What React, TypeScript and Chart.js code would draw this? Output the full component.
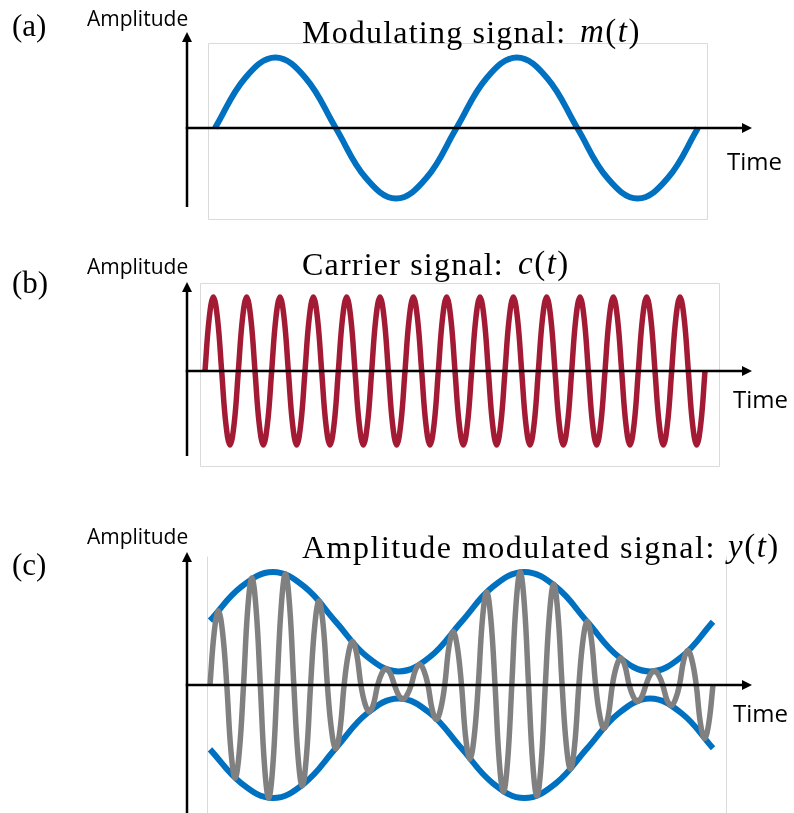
import React, { useEffect, useRef } from "react";
import { Chart, registerables } from "chart.js";

Chart.register(...registerables);

// ---- data -------------------------------------------------------------
// time in carrier cycles (eighth-cycle samples)
const carrierTime = [
  0, 0.125, 0.25, 0.375, 0.5, 0.625, 0.75, 0.875, 1, 1.125, 1.25, 1.375, 1.5, 1.625, 1.75, 1.875,
  2, 2.125, 2.25, 2.375, 2.5, 2.625, 2.75, 2.875, 3, 3.125, 3.25, 3.375, 3.5, 3.625, 3.75, 3.875,
  4, 4.125, 4.25, 4.375, 4.5, 4.625, 4.75, 4.875, 5, 5.125, 5.25, 5.375, 5.5, 5.625, 5.75, 5.875,
  6, 6.125, 6.25, 6.375, 6.5, 6.625, 6.75, 6.875, 7, 7.125, 7.25, 7.375, 7.5, 7.625, 7.75, 7.875,
  8, 8.125, 8.25, 8.375, 8.5, 8.625, 8.75, 8.875, 9, 9.125, 9.25, 9.375, 9.5, 9.625, 9.75, 9.875,
  10, 10.125, 10.25, 10.375, 10.5, 10.625, 10.75, 10.875, 11, 11.125, 11.25, 11.375, 11.5, 11.625, 11.75, 11.875,
  12, 12.125, 12.25, 12.375, 12.5, 12.625, 12.75, 12.875, 13, 13.125, 13.25, 13.375, 13.5, 13.625, 13.75, 13.875,
  14, 14.125, 14.25, 14.375, 14.5, 14.625, 14.75, 14.875, 15,
];

// carrier c(t)
const carrierValues = [
  0, 0.71, 1, 0.71, 0, -0.71, -1, -0.71, 0, 0.71, 1, 0.71, 0, -0.71, -1, -0.71,
  0, 0.71, 1, 0.71, 0, -0.71, -1, -0.71, 0, 0.71, 1, 0.71, 0, -0.71, -1, -0.71,
  0, 0.71, 1, 0.71, 0, -0.71, -1, -0.71, 0, 0.71, 1, 0.71, 0, -0.71, -1, -0.71,
  0, 0.71, 1, 0.71, 0, -0.71, -1, -0.71, 0, 0.71, 1, 0.71, 0, -0.71, -1, -0.71,
  0, 0.71, 1, 0.71, 0, -0.71, -1, -0.71, 0, 0.71, 1, 0.71, 0, -0.71, -1, -0.71,
  0, 0.71, 1, 0.71, 0, -0.71, -1, -0.71, 0, 0.71, 1, 0.71, 0, -0.71, -1, -0.71,
  0, 0.71, 1, 0.71, 0, -0.71, -1, -0.71, 0, 0.71, 1, 0.71, 0, -0.71, -1, -0.71,
  0, 0.71, 1, 0.71, 0, -0.71, -1, -0.71, 0,
];

// modulating signal sample times (eighth of a modulating cycle)
const modTime = [
  0, 0.9375, 1.875, 2.8125, 3.75, 4.6875, 5.625, 6.5625, 7.5,
  8.4375, 9.375, 10.3125, 11.25, 12.1875, 13.125, 14.0625, 15,
];

// modulating signal m(t)
const modValues = [0, 0.71, 1, 0.71, 0, -0.71, -1, -0.71, 0, 0.71, 1, 0.71, 0, -0.71, -1, -0.71, 0];

// envelope of the AM signal
const envelopeUpper = [0.57, 0.87, 1.0, 0.87, 0.56, 0.25, 0.12, 0.25, 0.56, 0.87, 1.0, 0.87, 0.56, 0.25, 0.12, 0.25, 0.56];
const envelopeLower = [-0.57, -0.87, -1.0, -0.87, -0.56, -0.25, -0.12, -0.25, -0.56, -0.87, -1.0, -0.87, -0.56, -0.25, -0.12, -0.25, -0.56];

// amplitude modulated signal y(t)
const amValues = [
  0, 0.466, 0.656, 0.466, 0, -0.585, -0.824, -0.585,
  0, 0.672, 0.946, 0.672, 0, -0.71, -1.0, -0.71,
  0, 0.698, 0.983, 0.698, 0, -0.633, -0.892, -0.633,
  0, 0.528, 0.744, 0.528, 0, -0.401, -0.565, -0.401,
  0, 0.274, 0.386, 0.274, 0, -0.169, -0.238, -0.169,
  0, 0.104, 0.147, 0.104, 0, -0.09, -0.127, -0.09,
  0, 0.131, 0.184, 0.131, 0, -0.217, -0.306, -0.217,
  0, 0.337, 0.474, 0.337, 0, -0.466, -0.656, -0.466,
  0, 0.585, 0.824, 0.585, 0, -0.672, -0.946, -0.672,
  0, 0.71, 1.0, 0.71, 0, -0.698, -0.983, -0.698,
  0, 0.633, 0.892, 0.633, 0, -0.528, -0.744, -0.528,
  0, 0.401, 0.565, 0.401, 0, -0.274, -0.386, -0.274,
  0, 0.169, 0.238, 0.169, 0, -0.104, -0.147, -0.104,
  0, 0.09, 0.127, 0.09, 0, -0.131, -0.184, -0.131,
  0, 0.217, 0.306, 0.217, 0, -0.337, -0.474, -0.337,
  0,
];

// ---- styles -----------------------------------------------------------
const BLUE = "#0070C0";
const RED = "#A31A35";
const GRAY = "#808080";
const W = 794;

function pts(t: number[], v: number[]) {
  return t.map((x, i) => ({ x, y: v[i] }));
}

type Frame = { left: number; right: number; top: number; bottom: number; closed: boolean };
type Panel = {
  top: number;
  height: number;
  axisX: number;
  tipX: number;
  tipY: number;
  bottomY: number;
  t0: number;
  t15: number;
  zeroY: number;
  oneY: number;
  frame: Frame;
  datasets: any[];
};

const panels: Panel[] = [
  {
    top: 0, height: 230, axisX: 187, tipX: 752, tipY: 32, bottomY: 207,
    t0: 215, t15: 698, zeroY: 128, oneY: 57.5,
    frame: { left: 208, right: 707, top: 43, bottom: 219, closed: true },
    datasets: [
      { data: pts(modTime, modValues), borderColor: BLUE, borderWidth: 6, tension: 0.4 },
    ],
  },
  {
    top: 230, height: 250, axisX: 187, tipX: 752, tipY: 282, bottomY: 456,
    t0: 205, t15: 705, zeroY: 371, oneY: 297,
    frame: { left: 200, right: 719, top: 283, bottom: 466, closed: true },
    datasets: [
      { data: pts(carrierTime, carrierValues), borderColor: RED, borderWidth: 5.5, tension: 0.4 },
    ],
  },
  {
    top: 480, height: 333, axisX: 187, tipX: 752, tipY: 552, bottomY: 813,
    t0: 210, t15: 713, zeroY: 685, oneY: 572,
    frame: { left: 207, right: 726, top: 556, bottom: 813, closed: false },
    datasets: [
      { data: pts(carrierTime, amValues), borderColor: GRAY, borderWidth: 5.5, tension: 0.4 },
      { data: pts(modTime, envelopeUpper), borderColor: BLUE, borderWidth: 6, tension: 0.4 },
      { data: pts(modTime, envelopeLower), borderColor: BLUE, borderWidth: 6, tension: 0.4 },
    ],
  },
];

function PanelChart({ p }: { p: Panel }) {
  const ref = useRef<HTMLCanvasElement>(null);
  useEffect(() => {
    const canvas = ref.current!;
    const pxT = (p.t15 - p.t0) / 15;
    const xMin = (p.axisX - p.t0) / pxT;
    const xMax = 15 + (p.tipX - p.t15) / pxT;
    const pxV = p.zeroY - p.oneY;
    const yMax = (p.zeroY - p.tipY) / pxV;
    const yMin = -(p.bottomY - p.zeroY) / pxV;

    const plugin = {
      id: "amAxes",
      beforeDatasetsDraw(chart: any) {
        const ctx = chart.ctx;
        const f = p.frame;
        ctx.save();
        ctx.strokeStyle = "#DADADA";
        ctx.lineWidth = 1;
        const L = f.left + 0.5, R = f.right + 0.5, T = f.top - p.top + 0.5, B = f.bottom - p.top + 0.5;
        ctx.beginPath();
        if (f.closed) {
          ctx.rect(L, T, R - L, B - T);
        } else {
          ctx.moveTo(L, T); ctx.lineTo(L, B);
          ctx.moveTo(R, T); ctx.lineTo(R, B);
        }
        ctx.stroke();
        ctx.restore();
      },
      afterDatasetsDraw(chart: any) {
        const { ctx, chartArea: a, scales } = chart;
        const y0 = scales.y.getPixelForValue(0);
        const head = 10, half = 5;
        ctx.save();
        ctx.strokeStyle = "#000";
        ctx.fillStyle = "#000";
        ctx.lineWidth = 2.5;
        ctx.beginPath();
        ctx.moveTo(a.left, a.bottom);
        ctx.lineTo(a.left, a.top + head - 1);
        ctx.stroke();
        ctx.beginPath();
        ctx.moveTo(a.left, a.top);
        ctx.lineTo(a.left - half, a.top + head);
        ctx.lineTo(a.left + half, a.top + head);
        ctx.closePath();
        ctx.fill();
        ctx.beginPath();
        ctx.moveTo(a.left - 1.25, y0);
        ctx.lineTo(a.right - head + 1, y0);
        ctx.stroke();
        ctx.beginPath();
        ctx.moveTo(a.right, y0);
        ctx.lineTo(a.right - head, y0 - half);
        ctx.lineTo(a.right - head, y0 + half);
        ctx.closePath();
        ctx.fill();
        ctx.restore();
      },
    };

    const chart = new Chart(canvas, {
      type: "line",
      data: {
        datasets: p.datasets.map((d) => ({
          ...d,
          fill: false,
          clip: false,
          pointRadius: 0,
          borderCapStyle: "butt",
          borderJoinStyle: "round",
        })),
      },
      options: {
        animation: false,
        responsive: false,
        devicePixelRatio: 1,
        events: [],
        layout: {
          padding: {
            left: p.axisX,
            right: W - p.tipX,
            top: p.tipY - p.top,
            bottom: p.top + p.height - p.bottomY,
          },
        },
        plugins: {
          legend: { display: false },
          tooltip: { enabled: false },
          title: { display: false },
        },
        scales: {
          x: { type: "linear", display: false, min: xMin, max: xMax },
          y: { type: "linear", display: false, min: yMin, max: yMax },
        },
      } as any,
      plugins: [plugin as any],
    });
    return () => chart.destroy();
  }, [p]);

  return (
    <canvas
      ref={ref}
      width={W}
      height={p.height}
      style={{ position: "absolute", left: 0, top: p.top, width: W, height: p.height }}
    />
  );
}

const serif = "'Liberation Serif', 'Times New Roman', serif";
const sans = "'Open Sans', 'Noto Sans', sans-serif";

function Txt({ x, y, size, font, children, spacing }: any) {
  return (
    <div
      style={{
        position: "absolute",
        left: x,
        top: y,
        fontFamily: font,
        fontSize: size,
        lineHeight: `${size}px`,
        letterSpacing: spacing ? `${spacing}px` : undefined,
        whiteSpace: "nowrap",
        color: "#000",
      }}
    >
      {children}
    </div>
  );
}

function MathFn({ x, y, name }: { x: number; y: number; name: string }) {
  return (
    <Txt x={x} y={y} size={33} font={serif} spacing={1.5}>
      <i>{name}</i>(<i>t</i>)
    </Txt>
  );
}

export default function App() {
  return (
    <div style={{ position: "absolute", left: 0, top: 0, width: W, height: 813, background: "#fff", overflow: "hidden" }}>
      {panels.map((p, i) => (
        <PanelChart key={i} p={p} />
      ))}
      {/* panel labels */}
      <Txt x={12} y={10} size={31} font={serif}>(a)</Txt>
      <Txt x={12} y={267} size={31} font={serif}>(b)</Txt>
      <Txt x={12} y={549} size={31} font={serif}>(c)</Txt>
      {/* y-axis labels */}
      <Txt x={87} y={8} size={21} font={sans}>Amplitude</Txt>
      <Txt x={87} y={256} size={21} font={sans}>Amplitude</Txt>
      <Txt x={87} y={526} size={21} font={sans}>Amplitude</Txt>
      {/* x-axis labels */}
      <Txt x={727} y={149} size={24} font={sans}>Time</Txt>
      <Txt x={733} y={387} size={24} font={sans}>Time</Txt>
      <Txt x={733} y={701} size={24} font={sans}>Time</Txt>
      {/* titles */}
      <Txt x={302} y={16} size={32} font={serif} spacing={1.2}>Modulating signal:</Txt>
      <MathFn x={580} y={15} name="m" />
      <Txt x={302} y={248} size={32} font={serif} spacing={1.2}>Carrier signal:</Txt>
      <MathFn x={518} y={247} name="c" />
      <Txt x={302} y={531} size={32} font={serif} spacing={1.5}>Amplitude modulated signal:</Txt>
      <MathFn x={728} y={530} name="y" />
    </div>
  );
}
